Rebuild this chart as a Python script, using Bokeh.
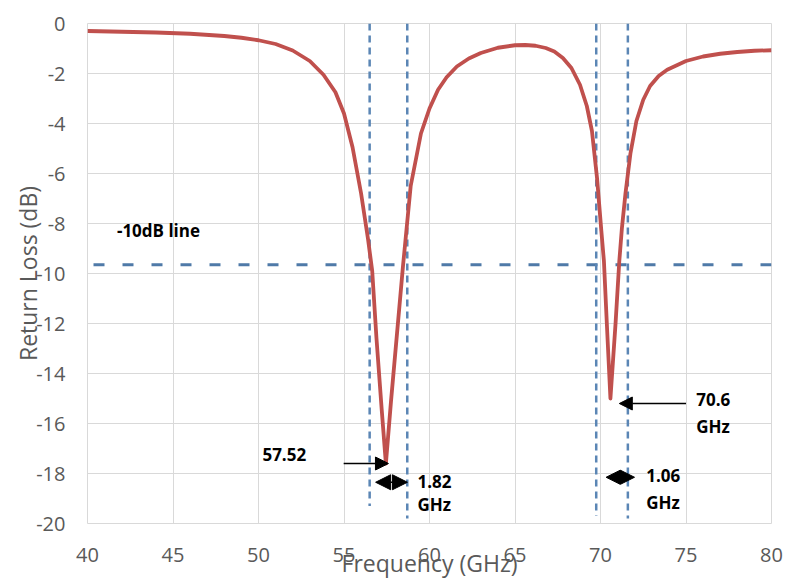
from bokeh.plotting import figure
from bokeh.models import Range1d, FixedTicker, Label, Arrow, NormalHead, ColumnDataSource
from bokeh.embed import file_html
from bokeh.resources import INLINE

# ---- data ----
freq_ghz = [40.0, 42.0, 44.0, 46.0, 48.0, 49.0, 50.0, 51.0, 52.0, 53.0, 53.8, 54.5,
            55.0, 55.5, 56.0, 56.4, 56.65, 56.9, 57.2, 57.45, 57.75, 58.1, 58.45,
            58.9, 59.5, 60.0, 60.5, 61.0, 61.6, 62.3, 63.0, 64.0, 65.0, 65.6, 66.2,
            66.8, 67.3, 67.8, 68.3, 68.8, 69.2, 69.5, 69.8, 70.05, 70.2, 70.37,
            70.58, 70.88, 71.1, 71.25, 71.46, 71.75, 72.1, 72.5, 72.9, 73.4, 73.9,
            75.0, 76.0, 77.0, 78.0, 79.0, 80.0]
return_loss_db = [-0.30, -0.33, -0.36, -0.41, -0.50, -0.57, -0.67, -0.82, -1.08, -1.50,
                  -2.05, -2.75, -3.6, -4.95, -6.8, -8.6, -9.9, -12.6, -15.4, -17.6,
                  -15.1, -12.4, -9.7, -6.5, -4.4, -3.4, -2.65, -2.15, -1.72, -1.40,
                  -1.18, -0.97, -0.87, -0.86, -0.89, -0.98, -1.12, -1.38, -1.78, -2.45,
                  -3.3, -4.3, -6.2, -8.3, -9.5, -12.0, -15.0, -12.0, -9.5, -8.2, -6.8,
                  -5.2, -3.9, -3.05, -2.5, -2.1, -1.85, -1.5, -1.32, -1.21, -1.14,
                  -1.09, -1.07]

threshold_db = -9.65
band_edges_ghz = [56.5, 58.7, 69.75, 71.6]
band_edge_bottoms = [-19.3, -19.8, -19.7, -19.8]

x_ticks = [40, 45, 50, 55, 60, 65, 70, 75, 80]
y_ticks = [0, -2, -4, -6, -8, -10, -12, -14, -16, -18, -20]
y_tick_labels = ["0", "-2", "-4", "-6", "-8", "-10", "-12", "-14", "-16", "-18", "-20"]

# annotation anchors (data coordinates)
res1_arrow = (54.98, -17.6, 57.6, -17.6)
res1_text = ("57.52", 50.23, -17.25)
bw1_arrow = (56.85, -18.35, 58.71, -18.35)
bw1_text = ("1.82", "GHz", 59.3, -18.3, -19.25)
res2_arrow = (75.0, -15.2, 71.1, -15.2)
res2_text = ("70.6", "GHz", 75.6, -15.05, -16.1)
bw2_arrow = (70.33, -18.15, 71.99, -18.15)
bw2_text = ("1.06", "GHz", 72.67, -18.08, -19.15)
line_label = ("-10dB line", 41.72, -8.28)

GRID = "#D9D9D9"
TXT = "#595959"
FONT = "Open Sans"

p = figure(width=788, height=584, output_backend="svg", toolbar_location=None,
           x_range=Range1d(40, 80), y_range=Range1d(-20, 0),
           min_border_left=87, min_border_right=17, min_border_top=23, min_border_bottom=61)
p.background_fill_color = "white"
p.border_fill_color = "white"
p.outline_line_color = GRID

p.xaxis.ticker = FixedTicker(ticks=x_ticks)
p.yaxis.ticker = FixedTicker(ticks=y_ticks)
p.yaxis.major_label_overrides = {t: s for t, s in zip(y_ticks, y_tick_labels)}
for ax in (p.xaxis, p.yaxis):
    ax.axis_line_color = None
    ax.major_tick_line_color = None
    ax.minor_tick_line_color = None
    ax.major_tick_out = 0
    ax.major_tick_in = 0
    ax.major_label_text_font = FONT
    ax.major_label_text_font_size = "20px"
    ax.major_label_text_color = TXT
    ax.axis_label_text_font = FONT
    ax.axis_label_text_font_size = "23px"
    ax.axis_label_text_font_style = "normal"
    ax.axis_label_text_color = TXT
p.xaxis.major_label_standoff = 24
p.yaxis.major_label_standoff = 22
p.xaxis.axis_label = "Frequency (GHz)"
p.yaxis.axis_label = "Return Loss (dB)"
p.xaxis.axis_label_standoff = -18
p.yaxis.axis_label_standoff = -11
p.xgrid.grid_line_color = GRID
p.ygrid.grid_line_color = GRID

# threshold line
p.line([x_ticks[0], x_ticks[-1]], [threshold_db, threshold_db], line_color="#4F7AA8",
       line_width=3, line_dash="11 18", line_dash_offset=-6)

# band-edge lines
p.segment(x0=band_edges_ghz, y0=[0, 0, 0, 0], x1=band_edges_ghz, y1=band_edge_bottoms,
          line_color="#5B86B5", line_width=2.5, line_dash="7 5")

# curve
src = ColumnDataSource(dict(f=freq_ghz, rl=return_loss_db))
p.line("f", "rl", source=src, line_color="#C0504D", line_width=3.8, line_join="round")

def bold_label(txt, x, y):
    p.add_layout(Label(x=x, y=y, text=txt, text_font=FONT, text_font_style="bold",
                       text_font_size="17px", text_color="black",
                       text_align="left", text_baseline="middle"))

def arrow(coords, both=False, size=13):
    x0, y0, x1, y1 = coords
    kw = dict(x_start=x0, y_start=y0, x_end=x1, y_end=y1, line_color="black", line_width=1.5,
              end=NormalHead(size=size, fill_color="black", line_color="black"))
    if both:
        kw["start"] = NormalHead(size=size, fill_color="black", line_color="black")
    p.add_layout(Arrow(**kw))

arrow(res1_arrow)
arrow(res2_arrow)
arrow(bw1_arrow, both=True, size=15)
arrow(bw2_arrow, both=True, size=14)

bold_label(res1_text[0], res1_text[1], res1_text[2])
bold_label(bw1_text[0], bw1_text[2], bw1_text[3])
bold_label(bw1_text[1], bw1_text[2], bw1_text[4])
bold_label(res2_text[0], res2_text[2], res2_text[3])
bold_label(res2_text[1], res2_text[2], res2_text[4])
bold_label(bw2_text[0], bw2_text[2], bw2_text[3])
bold_label(bw2_text[1], bw2_text[2], bw2_text[4])
bold_label(line_label[0], line_label[1], line_label[2])

open("out.html", "w").write(file_html(p, INLINE))
